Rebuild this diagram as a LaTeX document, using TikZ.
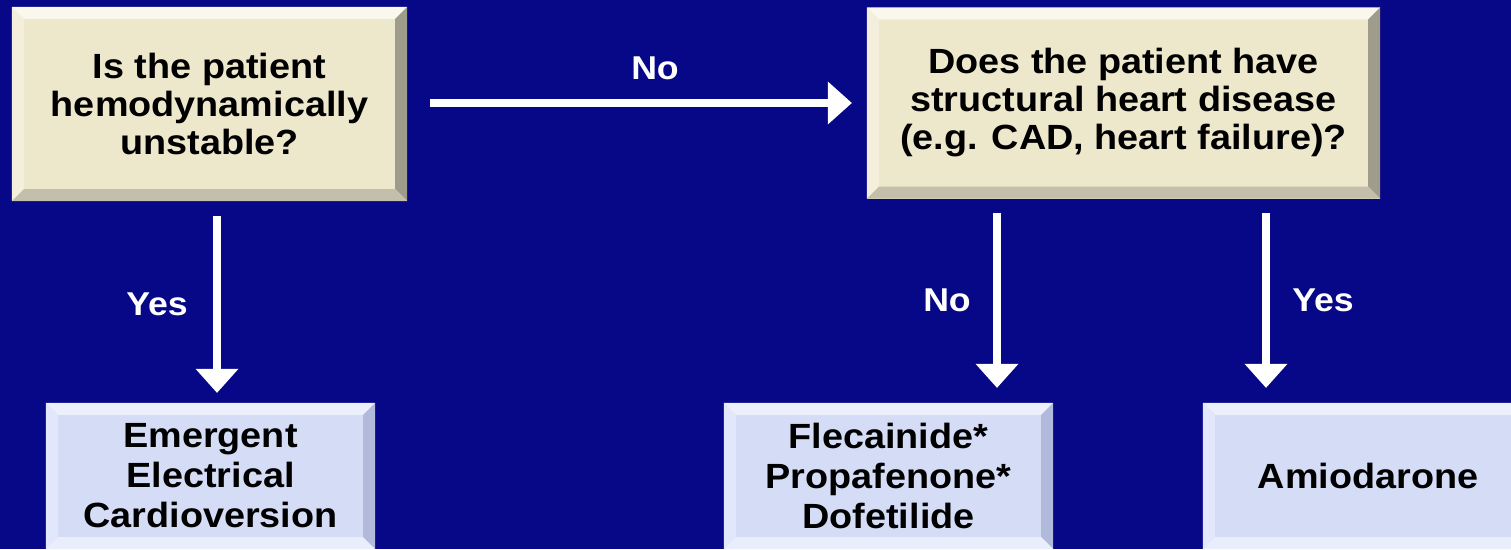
\documentclass[tikz,border=0pt]{standalone}
\usepackage{fontspec}
\setmainfont{Liberation Sans}[FakeStretch=1.08]
\usetikzlibrary{arrows.meta}
\definecolor{bg}{RGB}{6,8,136}
\definecolor{tanfill}{RGB}{237,231,204}
\definecolor{tantop}{RGB}{250,248,236}
\definecolor{tanleft}{RGB}{243,239,220}
\definecolor{tanright}{RGB}{160,156,140}
\definecolor{tanbot}{RGB}{196,191,170}
\definecolor{bluefill}{RGB}{212,220,246}
\definecolor{bluetop}{RGB}{236,240,253}
\definecolor{blueleft}{RGB}{226,231,251}
\definecolor{blueright}{RGB}{178,186,220}
\definecolor{bluebot}{RGB}{234,238,252}
\newcommand\bevelbox[5]{%
  \fill[#2] (#1.north west) -- (#1.north east) -- ([xshift=-12pt,yshift=-12pt]#1.north east) -- ([xshift=12pt,yshift=-12pt]#1.north west) -- cycle;
  \fill[#3] (#1.north west) -- (#1.south west) -- ([xshift=12pt,yshift=12pt]#1.south west) -- ([xshift=12pt,yshift=-12pt]#1.north west) -- cycle;
  \fill[#4] (#1.north east) -- (#1.south east) -- ([xshift=-12pt,yshift=12pt]#1.south east) -- ([xshift=-12pt,yshift=-12pt]#1.north east) -- cycle;
  \fill[#5] (#1.south west) -- (#1.south east) -- ([xshift=-12pt,yshift=12pt]#1.south east) -- ([xshift=12pt,yshift=12pt]#1.south west) -- cycle;
}
\begin{document}
\begin{tikzpicture}[x=1pt,y=-1pt,
  tanbox/.style={fill=tanfill, inner sep=0pt, align=center, text=black,
    font=\bfseries\fontsize{35}{38}\selectfont},
  bluebox/.style={fill=bluefill, inner sep=0pt, align=center, text=black,
    minimum width=329pt, minimum height=146pt,
    font=\bfseries\fontsize{35}{40}\selectfont},
  arr/.style={draw=white, line width=8pt,
    -{Triangle[width=43pt,length=24pt,line width=0pt]}},
  lbl/.style={text=white, font=\bfseries\fontsize{33}{36}\selectfont}]
\useasboundingbox (0,0) rectangle (1511,549);
\clip (0,0) rectangle (1511,549);
\fill[bg] (0,0) rectangle (1511,549);

\node[tanbox, minimum width=395pt, minimum height=194pt] (b1) at (209.5,104)
  {Is the patient\\hemodynamically\\unstable?};
\bevelbox{b1}{tantop}{tanleft}{tanright}{tanbot}
\node[tanbox, minimum width=513pt, minimum height=191pt] (b2) at (1123.5,103)
  {Does the patient have\\structural heart disease\\(e.g. CAD, heart failure)?};
\bevelbox{b2}{tantop}{tanleft}{tanright}{tanbot}

\node[bluebox] (b3) at (210.5,476) {Emergent\\Electrical\\Cardioversion};
\bevelbox{b3}{bluetop}{blueleft}{blueright}{bluebot}
\node[bluebox] (b4) at (888.5,476) {Flecainide*\\Propafenone*\\Dofetilide};
\bevelbox{b4}{bluetop}{blueleft}{blueright}{bluebot}
\node[bluebox, minimum width=330pt] (b5) at (1368,476) {Amiodarone};
\bevelbox{b5}{bluetop}{blueleft}{blueright}{bluebot}

\draw[arr] ([xshift=23pt,yshift=1pt]b1.east) -- ([xshift=-15pt]b2.west)
  node[lbl, midway, xshift=14pt, yshift=35pt] {No};
\draw[arr] ([xshift=7.5pt,yshift=-15pt]b1.south) -- ([xshift=6.5pt,yshift=10pt]b3.north)
  node[lbl, midway, xshift=-60pt] {Yes};
\draw[arr] ([xshift=-126.5pt,yshift=-14.5pt]b2.south) -- ([xshift=108.5pt,yshift=15pt]b4.north)
  node[lbl, midway, xshift=-50pt] {No};
\draw[arr] ([xshift=142.5pt,yshift=-14.5pt]b2.south) -- ([xshift=-102pt,yshift=15pt]b5.north)
  node[lbl, midway, xshift=57pt] {Yes};
\end{tikzpicture}
\end{document}
